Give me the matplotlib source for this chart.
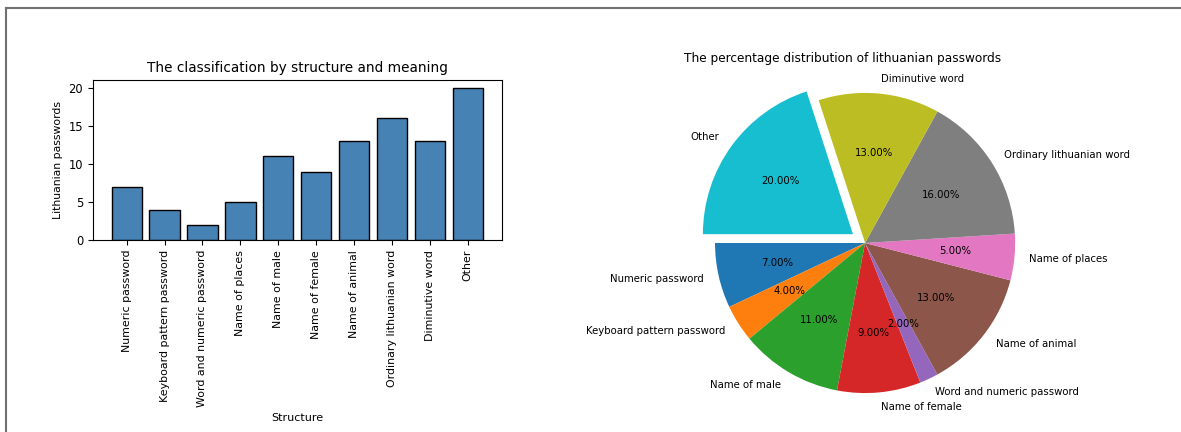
import matplotlib
matplotlib.use("Agg")
import matplotlib.pyplot as plt
from matplotlib.lines import Line2D

categories = ["Numeric password", "Keyboard pattern password", "Word and numeric password",
              "Name of places", "Name of male", "Name of female", "Name of animal",
              "Ordinary lithuanian word", "Diminutive word", "Other"]
counts = [7, 4, 2, 5, 11, 9, 13, 16, 13, 20]

# the pie lists the slices in another order
pie_labels = ["Numeric password", "Keyboard pattern password", "Name of male",
              "Name of female", "Word and numeric password", "Name of animal",
              "Name of places", "Ordinary lithuanian word", "Diminutive word", "Other"]
pie_counts = [7, 4, 11, 9, 2, 13, 5, 16, 13, 20]
explode = [0, 0, 0, 0, 0, 0, 0, 0, 0, 0.1]

fig = plt.figure(figsize=(11.81, 4.32), dpi=100)

# bar chart
ax1 = fig.add_axes([0.0787, 0.444, 0.346, 0.371])
ax1.bar(categories, counts, color="steelblue", edgecolor="black")
ax1.set_title("The classification by structure and meaning", fontsize=9.8)
ax1.set_xlabel("Structure", fontsize=8)
ax1.set_ylabel("Lithuanian passwords", fontsize=7.8)
ax1.tick_params(axis="x", labelrotation=90, labelsize=7.9)
ax1.tick_params(axis="y", labelsize=8.3)

# pie chart
ax2 = fig.add_axes([0.586, 0.037, 0.293, 0.801])
ax2.pie(pie_counts, labels=pie_labels, autopct="%1.2f%%", startangle=180,
        explode=explode, textprops={"fontsize": 7.3})
ax2.set_xlim(-1.153, 1.153)
ax2.set_ylim(-1.153, 1.153)
ax2.set_title("The percentage distribution of lithuanian passwords", fontsize=8.7, pad=6, x=0.436)

# screenshot frame
fig.add_artist(Line2D([6 / 1181, 6 / 1181], [0, 1 - 8 / 432], color="#707070", lw=1.5))
fig.add_artist(Line2D([6 / 1181, 1], [1 - 8 / 432, 1 - 8 / 432], color="#707070", lw=1.5))

fig.savefig("out.png", dpi=100)
